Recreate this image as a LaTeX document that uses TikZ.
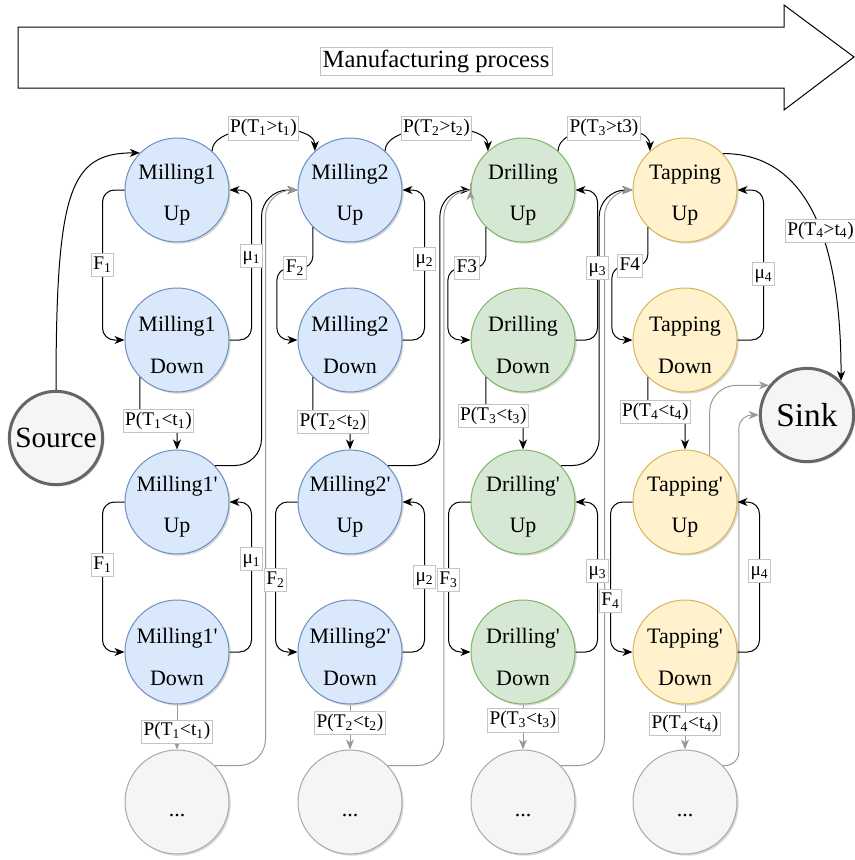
\documentclass[tikz,border=0pt]{standalone}
\usepackage{fontspec}
\setmainfont{Liberation Serif}
\usepackage{xcolor}
\usetikzlibrary{arrows.meta,shadows}

\definecolor{millfill}{HTML}{DAE8FC}
\definecolor{millline}{HTML}{6C8EBF}
\definecolor{drillfill}{HTML}{D5E8D4}
\definecolor{drillline}{HTML}{82B366}
\definecolor{tapfill}{HTML}{FFF2CC}
\definecolor{tapline}{HTML}{D6B656}
\definecolor{dotsfill}{HTML}{F5F5F5}
\definecolor{dotsline}{HTML}{A8A8A8}
\definecolor{termfill}{HTML}{F5F5F5}
\definecolor{termline}{HTML}{666666}
\definecolor{lblline}{HTML}{C4C4C4}
\definecolor{edgegray}{HTML}{999999}

\newcommand{\twoline}[2]{\rule{0pt}{19pt}#1\\#2}
\newcommand{\pr}{\textquotesingle}

\begin{document}
\begin{tikzpicture}[x=0.75pt,y=-0.75pt,
  state/.style={circle, minimum size=78pt, inner sep=-5pt, line width=0.75pt, align=center,
    font=\fontsize{16.5}{31}\selectfont,
    drop shadow={shadow xshift=1.3pt, shadow yshift=-1.3pt, opacity=0.3}},
  mill/.style={state, draw=millline, fill=millfill},
  drill/.style={state, draw=drillline, fill=drillfill},
  tap/.style={state, draw=tapline, fill=tapfill},
  more/.style={state, draw=dotsline, fill=dotsfill},
  term/.style={circle, minimum size=70pt, inner sep=0pt, line width=2.25pt, draw=termline, fill=termfill,
    font=\fontsize{22}{26}\selectfont,
    drop shadow={shadow xshift=1.3pt, shadow yshift=-1.3pt, opacity=0.3}},
  lbl/.style={draw=lblline, fill=white, line width=0.5pt, sharp corners, inner xsep=1.5pt, inner ysep=1.5pt,
    text height=10.5pt, text depth=4pt, font=\fontsize{14.5}{17}\selectfont},
  conn/.style={draw=black, line width=0.75pt, -{Stealth[length=7.5pt,width=6pt,inset=2.2pt]}},
  gconn/.style={conn, draw=edgegray},
]
\useasboundingbox (0,0) rectangle (855,860);

%Right Arrow
\draw[line width=0.75pt, fill=white] (18,27) -- (784,27) -- (784,5) -- (854,57) -- (784,110) -- (784,88) -- (18,88) -- cycle;
% Text Node
\node[draw=lblline, fill=white, line width=0.5pt, inner sep=2pt, font=\fontsize{18.5}{22}\selectfont] (mproc) at (436,61) {Manufacturing process};

% Source and sink
\node[term] (src) at (56,438) {Source};
\node[term, font=\fontsize{25}{30}\selectfont] (snk) at (807,415) {Sink};

% Milling1 column
\node[mill] (mill1up) at (177,190) {\twoline{Milling1}{Up}};
\node[mill] (mill1dn) at (177,340) {\twoline{Milling1}{Down}};
\node[mill] (mill1pup) at (177,502) {\twoline{Milling1\pr}{Up}};
\node[mill] (mill1pdn) at (177,652) {\twoline{Milling1\pr}{Down}};
\node[more] (dots1) at (177,802) {\rule{0pt}{22pt}...};
% Milling2 column
\node[mill] (mill2up) at (350,190) {\twoline{Milling2}{Up}};
\node[mill] (mill2dn) at (350,340) {\twoline{Milling2}{Down}};
\node[mill] (mill2pup) at (350,502) {\twoline{Milling2\pr}{Up}};
\node[mill] (mill2pdn) at (350,652) {\twoline{Milling2\pr}{Down}};
\node[more] (dots2) at (350,802) {\rule{0pt}{22pt}...};
% Drilling column
\node[drill] (drillup) at (523,190) {\twoline{Drilling}{Up}};
\node[drill] (drilldn) at (523,340) {\twoline{Drilling}{Down}};
\node[drill] (drillpup) at (523,502) {\twoline{Drilling\pr}{Up}};
\node[drill] (drillpdn) at (523,652) {\twoline{Drilling\pr}{Down}};
\node[more] (dots3) at (523,802) {\rule{0pt}{22pt}...};
% Tapping column
\node[tap] (tapup) at (685,190) {\twoline{Tapping}{Up}};
\node[tap] (tapdn) at (685,340) {\twoline{Tapping}{Down}};
\node[tap] (tappup) at (685,502) {\twoline{Tapping\pr}{Up}};
\node[tap] (tappdn) at (685,652) {\twoline{Tapping\pr}{Down}};
\node[more] (dots4) at (685,802) {\rule{0pt}{22pt}...};

% back to the next Up state
\draw[conn, rounded corners=20pt] (mill1pup.44) -| ([xshift=-27pt]mill2up.west) -- (mill2up.west);
\draw[gconn, rounded corners=20pt] (dots1.44) -| ([xshift=-24pt]mill2up.west) -- (mill2up.west);
\draw[conn, rounded corners=20pt] (mill2pup.44) -| ([xshift=-23pt]drillup.west) -- (drillup.west);
\draw[gconn, rounded corners=20pt] (dots2.44) -| ([xshift=-20pt]drillup.west) -- (drillup.west);
\draw[conn, rounded corners=20pt] (drillpup.44) -| ([xshift=-25pt]tapup.west) -- (tapup.west);
\draw[gconn, rounded corners=20pt] (dots3.44) -| ([xshift=-21pt]tapup.west) -- (tapup.west);
\draw[gconn, rounded corners=20pt] (tappup.62) |- (snk.142);
\draw[gconn, rounded corners=10pt] (dots4.44) -| ([xshift=-15pt]snk.west) -- (snk.west);

% along the process
\draw[conn] (src.north) .. controls +(0,-200) and +(-70,0) .. (mill1up.135);
\draw[conn] (mill1up.48) .. controls +(0,-30) and +(0,-30) .. node[lbl]{P(T\textsubscript{1}>t\textsubscript{1})} (mill2up.132);
\draw[conn] (mill2up.48) .. controls +(0,-30) and +(0,-30) .. node[lbl]{P(T\textsubscript{2}>t\textsubscript{2})} (drillup.132);
\draw[conn] (drillup.48) .. controls +(0,-30) and +(0,-30) .. node[lbl]{P(T\textsubscript{3}>t3)} (tapup.132);
\draw[conn] (tapup.44) .. controls +(80,0) and +(0,-150) .. node[lbl,pos=.58]{P(T\textsubscript{4}>t\textsubscript{4})} (snk.45);

% failures and repairs, first row
\draw[conn, rounded corners=9pt] (mill1up.west) -- ++(-22,0) |- node[lbl,pos=.25]{F\textsubscript{1}} (mill1dn.west);
\draw[conn, rounded corners=9pt] (mill1dn.east) -- ++(22,0) |- node[lbl,pos=.28]{μ\textsubscript{1}} (mill1up.east);
\draw[conn, rounded corners=9pt] (mill2up.225) -- ++(0,41) -- node[lbl]{F\textsubscript{2}} ++(-36,0) |- (mill2dn.west);
\draw[conn, rounded corners=9pt] (mill2dn.east) -- ++(22,0) |- node[lbl,pos=.27]{μ\textsubscript{2}} (mill2up.east);
\draw[conn, rounded corners=9pt] (drillup.225) -- ++(0,41) -- node[lbl]{F3} ++(-38,0) |- (drilldn.west);
\draw[conn, rounded corners=9pt] (drilldn.east) -- ++(22,0) |- node[lbl,pos=.24]{μ\textsubscript{3}} (drillup.east);
\draw[conn, rounded corners=9pt] (tapup.225) -- ++(0,39) -- node[lbl]{F4} ++(-36,0) |- (tapdn.west);
\draw[conn, rounded corners=9pt] (tapdn.east) -- ++(26,0) |- node[lbl,pos=.22]{μ\textsubscript{4}} (tapup.east);

% Down to the next Up state
\draw[conn, rounded corners=9pt] (mill1dn.225) -- ++(0,44) -| node[lbl,pos=.25]{P(T\textsubscript{1}<t\textsubscript{1})} (mill1pup.north);
\draw[conn, rounded corners=9pt] (mill2dn.225) -- ++(0,45) -| node[lbl,pos=.27]{P(T\textsubscript{2}<t\textsubscript{2})} (mill2pup.north);
\draw[conn, rounded corners=9pt] (drilldn.225) -- ++(0,39) -| node[lbl,pos=.1]{P(T\textsubscript{3}<t\textsubscript{3})} (drillpup.north);
\draw[conn, rounded corners=9pt] (tapdn.225) -- ++(0,35) -| node[lbl,pos=.1]{P(T\textsubscript{4}<t\textsubscript{4})} (tappup.north);

% failures and repairs, second row
\draw[conn, rounded corners=9pt] (mill1pup.west) -- ++(-22,0) |- node[lbl,pos=.21]{F\textsubscript{1}} (mill1pdn.west);
\draw[conn, rounded corners=9pt] (mill1pdn.east) -- ++(22,0) |- node[lbl,pos=.31]{μ\textsubscript{1}} (mill1pup.east);
\draw[conn, rounded corners=9pt] (mill2pup.west) -- ++(-22,0) |- node[lbl,pos=.26]{F\textsubscript{2}} (mill2pdn.west);
\draw[conn, rounded corners=9pt] (mill2pdn.east) -- ++(22,0) |- node[lbl,pos=.25]{μ\textsubscript{2}} (mill2pup.east);
\draw[conn, rounded corners=9pt] (drillpup.west) -- ++(-22,0) |- node[lbl,pos=.26]{F\textsubscript{3}} (drillpdn.west);
\draw[conn, rounded corners=9pt] (drillpdn.east) -- ++(22,0) |- node[lbl,pos=.27]{μ\textsubscript{3}} (drillpup.east);
\draw[conn, rounded corners=9pt] (tappup.west) -- ++(-22,0) |- node[lbl,pos=.33]{F\textsubscript{4}} (tappdn.west);
\draw[conn, rounded corners=9pt] (tappdn.east) -- ++(22,0) |- node[lbl,pos=.27]{μ\textsubscript{4}} (tappup.east);

% Down to the dots
\draw[gconn] (mill1pdn.south) -- node[lbl,pos=.6]{P(T\textsubscript{1}<t\textsubscript{1})} (dots1.north);
\draw[gconn] (mill2pdn.south) -- node[lbl,pos=.41]{P(T\textsubscript{2}<t\textsubscript{2})} (dots2.north);
\draw[gconn] (drillpdn.south) -- node[lbl,pos=.35]{P(T\textsubscript{3}<t\textsubscript{3})} (dots3.north);
\draw[gconn] (tappdn.south) -- node[lbl,pos=.43]{P(T\textsubscript{4}<t\textsubscript{4})} (dots4.north);

\end{tikzpicture}
\end{document}
